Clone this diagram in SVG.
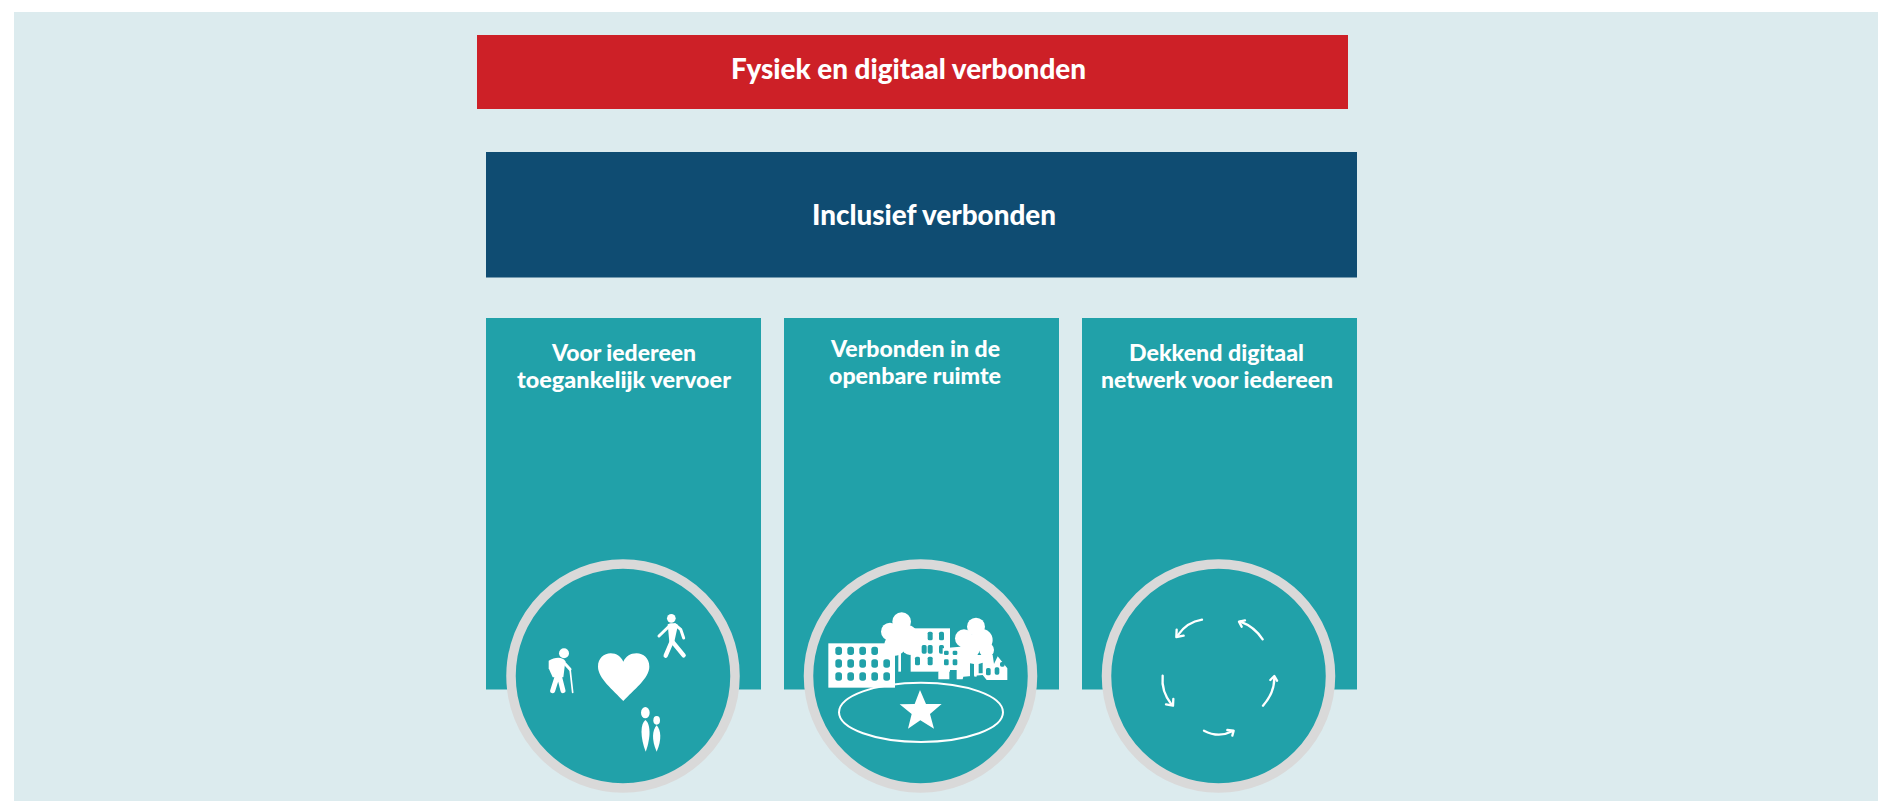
<svg xmlns="http://www.w3.org/2000/svg" width="1878" height="801" viewBox="0 0 1878 801">
<style>
.t{font-family:"Lato","Open Sans","Liberation Sans",sans-serif;font-weight:900;fill:#fff;text-anchor:start}
.b{font-size:27.5px}.s{font-size:23px}
.col{fill:#21a1a9}
.ring{fill:#21a1a9;stroke:#d9d9d9;stroke-width:9.5}
.w{fill:#fff}.win{fill:#21a1a9}
.l{fill:none;stroke:#fff;stroke-linecap:round;stroke-linejoin:round}
.a{fill:none;stroke:#fff;stroke-width:7;stroke-linecap:round}
.h{fill:none;stroke:#fff;stroke-width:7;stroke-linecap:round;stroke-linejoin:round}
</style>
<rect width="1878" height="801" fill="#fff"/>
<rect id="background" x="14" y="12" width="1864" height="789" fill="#dcebee"/>
<g id="fysiek"><rect x="477" y="35" width="871" height="74" fill="#cd2027"/>
<text class="t b" x="731" y="79" textLength="355" lengthAdjust="spacingAndGlyphs">Fysiek en digitaal verbonden</text></g>
<g id="inclusief"><rect x="486" y="152" width="871" height="125.5" fill="#0f4c72"/>
<text class="t b" x="812" y="225" textLength="244" lengthAdjust="spacingAndGlyphs">Inclusief verbonden</text></g>
<g id="col1"><rect class="col" x="486" y="318" width="275" height="371.5"/>
<text class="t s" x="552" y="361" textLength="144" lengthAdjust="spacingAndGlyphs">Voor iedereen</text>
<text class="t s" x="517" y="388" textLength="214" lengthAdjust="spacingAndGlyphs">toegankelijk vervoer</text></g>
<g id="col2"><rect class="col" x="784" y="318" width="275" height="371.5"/>
<text class="t s" x="831" y="356.500" textLength="169" lengthAdjust="spacingAndGlyphs">Verbonden in de</text>
<text class="t s" x="829" y="384" textLength="172" lengthAdjust="spacingAndGlyphs">openbare ruimte</text></g>
<g id="col3"><rect class="col" x="1082" y="318" width="275" height="371.5"/>
<text class="t s" x="1129" y="361" textLength="175" lengthAdjust="spacingAndGlyphs">Dekkend digitaal</text>
<text class="t s" x="1101" y="388" textLength="232" lengthAdjust="spacingAndGlyphs">netwerk voor iedereen</text></g>

<g id="circle1"><circle class="ring" cx="623" cy="676" r="112"/>
<g transform="translate(490 540) scale(.33333)">
<path class="w" d="M400,483C370,450 324,415 324,380C324,355 342,340 362,340C380,340 393,350 400,365C407,350 420,340 440,340C460,340 478,355 478,380C478,415 430,450 400,483Z"/>
<circle class="w" cx="544" cy="235" r="13"/>
<path class="w" d="M533,253C540,248 556,248 564,255L552,310L538,305Z"/>
<path class="l" stroke-width="9" d="M538,258L507,288M555,254L572,268L581,294"/>
<path class="l" stroke-width="13" d="M545,305L527,347M547,305L581,346"/>
<circle class="w" cx="222" cy="340" r="15"/>
<path class="w" d="M176,362C195,350 220,350 226,364L220,412L188,412L176,385Z"/>
<path class="l" stroke-width="9" d="M218,364L240,388"/>
<path class="l" stroke-width="5" d="M240,386L248,457"/>
<path class="l" stroke-width="15" d="M202,408L188,452M208,408L219,452"/>
<ellipse class="w" cx="466" cy="518" rx="13" ry="17"/>
<path class="w" d="M466,540C481,550 484,590 467,635C450,590 451,552 466,540Z"/>
<ellipse class="w" cx="500" cy="541" rx="10" ry="13"/>
<path class="w" d="M500,556C513,570 516,600 500,635C484,600 487,570 500,556Z"/>
</g></g>

<g id="circle2"><circle class="ring" cx="920.5" cy="676" r="112"/>
<g transform="translate(790 540) scale(.33333)">
<rect class="w" x="115" y="310" width="200" height="133"/>
<g class="win">
<rect x="136" y="320" width="20" height="25" rx="8"/><rect x="172" y="320" width="20" height="25" rx="8"/><rect x="208" y="320" width="20" height="25" rx="8"/><rect x="244" y="320" width="20" height="25" rx="8"/>
<rect x="136" y="358" width="20" height="25" rx="8"/><rect x="172" y="358" width="20" height="25" rx="8"/><rect x="208" y="358" width="20" height="25" rx="8"/><rect x="244" y="358" width="20" height="25" rx="8"/><rect x="280" y="358" width="20" height="25" rx="8"/>
<rect x="136" y="397" width="20" height="25" rx="8"/><rect x="172" y="397" width="20" height="25" rx="8"/><rect x="208" y="397" width="20" height="25" rx="8"/><rect x="244" y="397" width="20" height="25" rx="8"/><rect x="280" y="397" width="20" height="25" rx="8"/>
</g>
<rect class="w" x="362" y="265" width="118" height="130"/>
<g class="win">
<rect x="413" y="275" width="15" height="26" rx="5"/><rect x="447" y="275" width="15" height="26" rx="5"/>
<rect x="395" y="315" width="15" height="26" rx="5"/><rect x="413" y="315" width="15" height="26" rx="5"/><rect x="447" y="315" width="15" height="26" rx="5"/>
<rect x="375" y="350" width="15" height="26" rx="5"/><rect x="413" y="350" width="15" height="26" rx="5"/>
</g>
<path class="w" d="M445,418L445,395L458,380L458,325L510,320L560,345L620,345L652,385L652,420L590,420L578,405L520,410L518,418L500,418L500,390L478,390L478,418Z"/>
<g class="win">
<rect x="462" y="332" width="14" height="13" rx="4"/><rect x="488" y="332" width="14" height="13" rx="4"/>
<rect x="462" y="358" width="14" height="18" rx="4"/><rect x="488" y="358" width="14" height="18" rx="4"/>
<rect x="588" y="384" width="14" height="22" rx="5"/><rect x="614" y="382" width="14" height="22" rx="5"/><rect x="630" y="366" width="14" height="14" rx="5"/>
<path d="M608,345L625,345L612,372Z"/>
<path d="M540,370L552,372L552,410L540,410Z"/><path d="M566,372L578,368L578,400L566,400Z"/>
</g>
<g class="w">
<circle cx="335" cy="245" r="28"/><circle cx="300" cy="275" r="27"/><circle cx="350" cy="290" r="35"/><circle cx="315" cy="315" r="32"/><circle cx="360" cy="320" r="25"/>
<rect x="325" y="320" width="8" height="75"/>
<circle cx="558" cy="260" r="27"/><circle cx="522" cy="295" r="27"/><circle cx="575" cy="300" r="33"/><circle cx="540" cy="325" r="30"/><circle cx="590" cy="330" r="22"/>
<rect x="553" y="340" width="7" height="70"/>
</g>
<ellipse cx="393" cy="517" rx="246" ry="89" fill="none" stroke="#fff" stroke-width="6"/>
<path class="w" d="M390,450L408,492L455,492L420,522L432,566L391,541L354,566L365,522L329,493L374,492Z"/>
</g></g>

<g id="circle3"><circle class="ring" cx="1218.5" cy="676" r="112"/>
<g transform="translate(1085 540) scale(.33333)">
<path class="a" d="M351,239Q306,246 278,286"/><path class="h" d="M275,269L274,291L296,287"/>
<path class="a" d="M533,298Q508,260 466,245"/><path class="h" d="M480,241L462,245L470,260"/>
<path class="a" d="M233,407Q228,455 260,494"/><path class="h" d="M243,493L264,497L265,477"/>
<path class="a" d="M357,572Q400,595 442,574"/><path class="h" d="M427,570L446,572L442,587"/>
<path class="a" d="M534,497Q568,460 568,414"/><path class="h" d="M556,420L568,408L576,422"/>
</g></g>
</svg>
